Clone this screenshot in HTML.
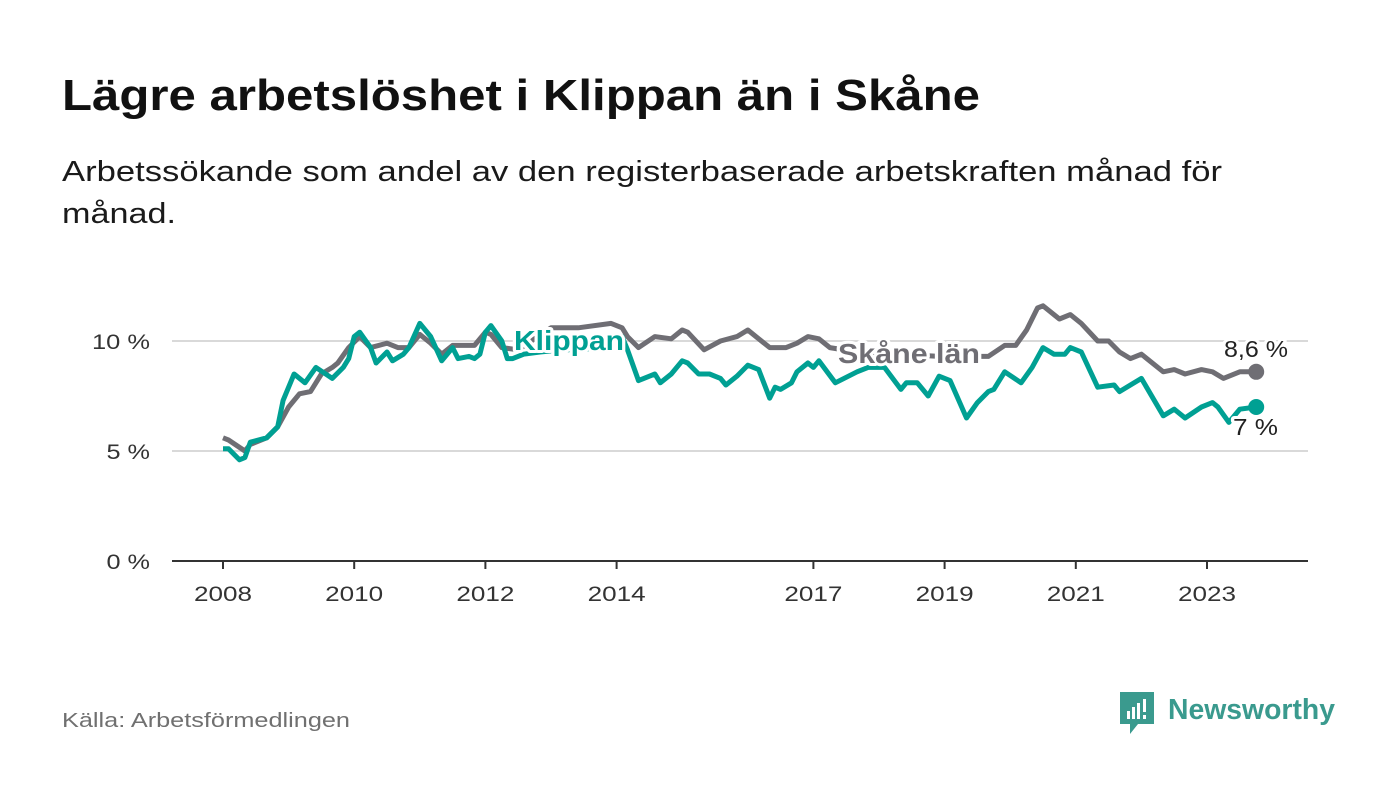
<!DOCTYPE html>
<html><head><meta charset="utf-8"><style>
body{margin:0;background:#fff;}
svg{display:block;font-family:"Liberation Sans","DejaVu Sans",sans-serif;}
</style></head><body>
<svg id="chart" width="1400" height="794" viewBox="0 0 1400 794">
<text x="62" y="110" font-size="44" font-weight="bold" fill="#111" textLength="918" lengthAdjust="spacingAndGlyphs">Lägre arbetslöshet i Klippan än i Skåne</text>
<text x="62" y="181" font-size="29" fill="#1a1a1a" textLength="1160" lengthAdjust="spacingAndGlyphs">Arbetssökande som andel av den registerbaserade arbetskraften månad för</text>
<text x="62" y="223" font-size="29" fill="#1a1a1a" textLength="114" lengthAdjust="spacingAndGlyphs">månad.</text>
<g id="axes"></g>
<g id="series"></g>
<g id="labels"></g>
<text x="62" y="727" font-size="20" fill="#707070" textLength="288" lengthAdjust="spacingAndGlyphs">Källa: Arbetsförmedlingen</text>
<g>
<path d="M1120 692 h34 v32 h-16 l-8 10 v-10 h-10 z" fill="#3a9a8e"/>
<rect x="1127" y="711" width="3" height="8" fill="#fff"/><rect x="1132" y="707" width="3" height="12" fill="#fff"/><rect x="1137" y="703" width="3" height="16" fill="#fff"/><rect x="1143" y="699" width="3" height="13" fill="#fff"/><rect x="1143" y="715" width="3" height="4" fill="#fff"/>
<text x="1168" y="719" font-size="29" font-weight="bold" fill="#3a9a8e" textLength="167" lengthAdjust="spacingAndGlyphs">Newsworthy</text>
</g>
</svg>
<script>
const yTicks=[0,5,10];
const yTickLabels=["0 %","5 %","10 %"];
const xTickYears=[2008,2010,2012,2014,2017,2019,2021,2023];
const klippanMonths=[0,1,3,4,5,8,10,11,13,15,17,20,22,23,24,25,27,28,30,31,33,34,36,38,40,42,43,45,46,47,48,49,51,52,53,55,58,62,65,69,73,74,76,78,79,80,82,84,85,87,89,91,92,94,96,98,100,101,102,104,105,107,108,109,112,116,118,121,124,125,127,129,131,133,136,138,140,141,143,146,148,150,152,154,155,157,160,163,164,168,172,174,176,179,181,182,184,186,189];
const klippanValues=[5.1,5.1,4.6,4.7,5.4,5.6,6.1,7.3,8.5,8.1,8.8,8.3,8.8,9.2,10.2,10.4,9.7,9.0,9.5,9.1,9.4,9.7,10.8,10.2,9.1,9.7,9.2,9.3,9.2,9.4,10.4,10.7,10.0,9.2,9.2,9.4,9.5,9.6,9.6,9.7,10.2,9.6,8.2,8.4,8.5,8.1,8.5,9.1,9.0,8.5,8.5,8.3,8.0,8.4,8.9,8.7,7.4,7.9,7.8,8.1,8.6,9.0,8.8,9.1,8.1,8.6,8.8,8.8,7.8,8.1,8.1,7.5,8.4,8.2,6.5,7.2,7.7,7.8,8.6,8.1,8.8,9.7,9.4,9.4,9.7,9.5,7.9,8.0,7.7,8.3,6.6,6.9,6.5,7.0,7.2,7.0,6.3,6.9,7.0];
const skaneMonths=[0,1,4,5,8,10,12,14,16,18,20,21,23,25,27,30,32,34,36,38,40,42,46,48,49,51,54,60,65,71,73,74,76,79,82,84,85,88,91,94,96,98,100,103,105,107,109,111,116,124,131,140,143,145,147,149,150,153,155,157,160,162,164,166,168,172,174,176,179,181,183,186,189];
const skaneValues=[5.6,5.5,5.0,5.3,5.6,6.1,7.0,7.6,7.7,8.5,8.8,9.0,9.7,10.2,9.7,9.9,9.7,9.7,10.3,9.9,9.4,9.8,9.8,10.4,10.3,9.7,9.6,10.6,10.6,10.8,10.6,10.2,9.7,10.2,10.1,10.5,10.4,9.6,10.0,10.2,10.5,10.1,9.7,9.7,9.9,10.2,10.1,9.7,9.5,9.4,9.3,9.3,9.8,9.8,10.5,11.5,11.6,11.0,11.2,10.8,10.0,10.0,9.5,9.2,9.4,8.6,8.7,8.5,8.7,8.6,8.3,8.6,8.6];
const NS="http://www.w3.org/2000/svg";
const X0=223,PXM=65.6/12,Y0=561,PXV=22;
function xScale(m){return X0+m*PXM;}
function xYear(y){return xScale((y-2008)*12);}
function yScale(v){return Y0-v*PXV;}
function mk(tag,attrs,parent){const e=document.createElementNS(NS,tag);for(const k in attrs)e.setAttribute(k,attrs[k]);parent.appendChild(e);return e;}
const axes=document.getElementById('axes');
yTicks.forEach((t,i)=>{
  if(t>0){const g=mk('line',{x1:172,x2:1308,y1:yScale(t),y2:yScale(t),stroke:'#d9d9d9','stroke-width':2},axes);
  
  }
  const tx=mk('text',{x:150,y:yScale(t)+8,'font-size':21,fill:'#333','text-anchor':'end',textLength:yTickLabels[i].length*14.5,lengthAdjust:'spacingAndGlyphs'},axes);
  tx.textContent=yTickLabels[i];
  
  
});
const base=mk('line',{x1:172,x2:1308,y1:Y0,y2:Y0,stroke:'#333','stroke-width':2},axes);


xTickYears.forEach(yr=>{
  const x=xYear(yr);
  const tk=mk('line',{x1:x,x2:x,y1:Y0,y2:Y0+8,stroke:'#333','stroke-width':2},axes);
  
  
  const tx=mk('text',{x:x-29,y:601,'font-size':21,fill:'#333',textLength:58,lengthAdjust:'spacingAndGlyphs'},axes);
  tx.textContent=yr;
  
  
});
const ser=document.getElementById('series');
function pts(ms,vs){return ms.map((m,i)=>xScale(m).toFixed(1)+','+yScale(vs[i]).toFixed(1)).join(' ');}
const sk=mk('polyline',{points:pts(skaneMonths,skaneValues),fill:'none',stroke:'#6f6e74','stroke-width':5,'stroke-linejoin':'round'},ser);


const kl=mk('polyline',{points:pts(klippanMonths,klippanValues),fill:'none',stroke:'#00a093','stroke-width':5,'stroke-linejoin':'round'},ser);


const sl=skaneMonths.length-1,kli=klippanMonths.length-1;
const d1=mk('circle',{cx:xScale(skaneMonths[sl]),cy:yScale(skaneValues[sl]),r:8,fill:'#6f6e74'},ser);


const d2=mk('circle',{cx:xScale(klippanMonths[kli]),cy:yScale(klippanValues[kli]),r:8,fill:'#00a093'},ser);


const lab=document.getElementById('labels');
function label(txt,x,y,size,weight,color,name,len){
  const t=mk('text',{x:x,y:y,'font-size':size,'font-weight':weight,fill:color,stroke:'#fff','stroke-width':6,'paint-order':'stroke','stroke-linejoin':'round',textLength:len,lengthAdjust:'spacingAndGlyphs'},lab);
  t.textContent=txt;
  
  
}
label('Klippan',514,350,28,'bold','#00a093','klippan-label',110);
label('Skåne län',838,363,28,'bold','#6f6e74','skane-label',142);
label('8,6 %',1224,357,23,'normal','#222','skane-end-value',64);
label('7 %',1233,435,23,'normal','#222','klippan-end-value',45);
</script>
</body></html>
